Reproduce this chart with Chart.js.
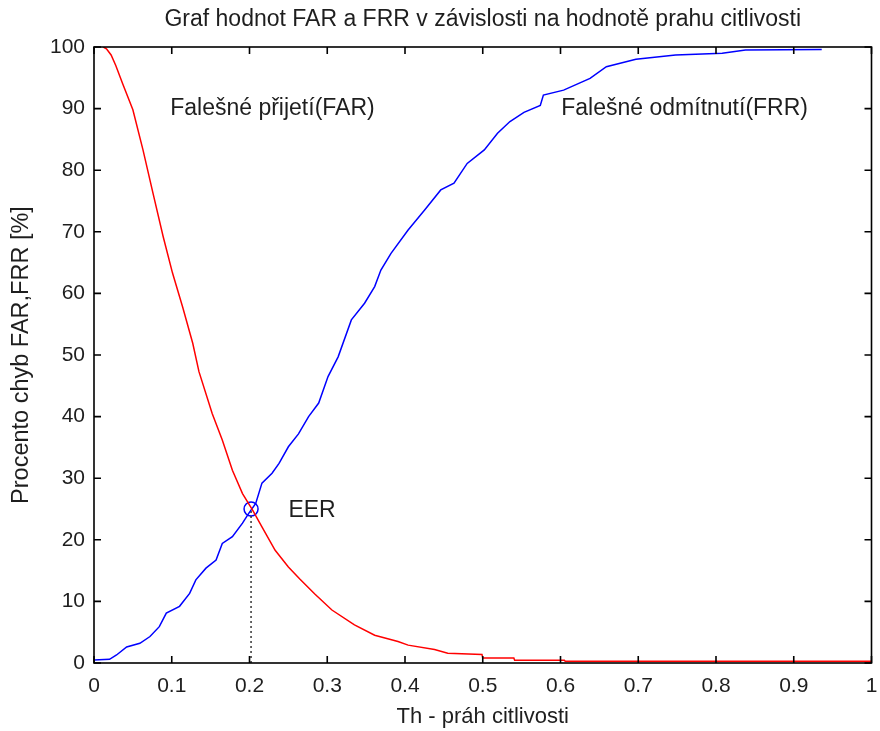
<!DOCTYPE html>
<html>
<head>
<meta charset="utf-8">
<script src="https://cdn.jsdelivr.net/npm/chart.js@4/dist/chart.umd.min.js"></script>
<style>
  html, body { margin: 0; padding: 0; background: #fff; overflow: hidden; }
  #wrap { width: 880px; height: 731px; }
  canvas { display: block; }
</style>
</head>
<body>
<div id="wrap"><canvas id="errChart"></canvas></div>
<script>
// values
const farX = [0.012, 0.016, 0.022, 0.028, 0.037, 0.050, 0.063, 0.076, 0.089, 0.101, 0.114, 0.127, 0.135, 0.152, 0.165, 0.178, 0.191, 0.204, 0.216, 0.233, 0.250, 0.265, 0.284, 0.306, 0.335, 0.361, 0.391, 0.404, 0.438, 0.455, 0.499, 0.500, 0.540, 0.541, 0.605, 0.606, 1.000];
const farY = [100, 99.7, 98.7, 97.0, 94.0, 89.8, 83.3, 76.2, 69.2, 63.3, 57.8, 51.9, 47.3, 40.5, 36.2, 31.3, 27.5, 24.8, 22.1, 18.3, 15.6, 13.6, 11.2, 8.6, 6.2, 4.5, 3.5, 2.9, 2.2, 1.6, 1.4, 0.8, 0.8, 0.45, 0.45, 0.3, 0.3];

const frrX = [0.000, 0.020, 0.029, 0.042, 0.059, 0.072, 0.084, 0.093, 0.110, 0.123, 0.131, 0.144, 0.157, 0.165, 0.178, 0.191, 0.199, 0.208, 0.216, 0.229, 0.238, 0.250, 0.263, 0.276, 0.289, 0.301, 0.314, 0.331, 0.348, 0.361, 0.369, 0.382, 0.404, 0.425, 0.446, 0.463, 0.480, 0.502, 0.519, 0.535, 0.553, 0.574, 0.578, 0.604, 0.638, 0.659, 0.697, 0.748, 0.808, 0.838, 0.936];
const frrY = [0.5, 0.6, 1.3, 2.6, 3.2, 4.3, 5.9, 8.1, 9.2, 11.3, 13.5, 15.4, 16.7, 19.4, 20.5, 22.7, 24.3, 25.9, 29.2, 30.8, 32.4, 35.1, 37.2, 40.0, 42.2, 46.5, 49.7, 55.7, 58.4, 61.1, 63.8, 66.5, 70.3, 73.5, 76.8, 77.9, 81.1, 83.3, 86.0, 87.9, 89.4, 90.5, 92.2, 93.0, 94.9, 96.8, 98.0, 98.7, 99.0, 99.5, 99.6];

const eerX = 0.202;
const eerY = 25;

const noteText = ['Falešné přijetí(FAR)', 'Falešné odmítnutí(FRR)', 'EER'];
const noteX = [0.098, 0.601, 0.250];
const noteY = [90, 90, 24.8];

const xTicks = [0, 0.1, 0.2, 0.3, 0.4, 0.5, 0.6, 0.7, 0.8, 0.9, 1];
const yTicks = [0, 10, 20, 30, 40, 50, 60, 70, 80, 90, 100];

const textColor = '#1e1e1e';
const fontFamily = '"Liberation Sans", Arial, sans-serif';
const plotRight = 877; // right edge of the plot box in the reference

// keep tick labels from pushing the plot area in
const noPad = () => ({ left: 0, top: 0, right: 0, bottom: 0 });
function lockPadding(s) {
    s._calculatePadding = function () {
        this.paddingLeft = 0; this.paddingRight = 0;
        this.paddingTop = 0; this.paddingBottom = 0;
    };
    s.getPadding = noPad;
}

const toPoints = (xs, ys) => xs.map((x, i) => ({ x: x, y: ys[i] }));

// box round the plot with MATLAB style inside ticks + text notes
const framePlugin = {
    id: 'frame',
    afterDatasetsDraw(chart) {
        const { ctx, chartArea: a, scales: { x, y } } = chart;
        ctx.save();
        ctx.strokeStyle = '#000';
        ctx.lineWidth = 1.6;
        ctx.strokeRect(a.left, a.top, a.right - a.left, a.bottom - a.top);
        ctx.beginPath();
        xTicks.forEach(v => {
            const px = x.getPixelForValue(v);
            ctx.moveTo(px, a.bottom); ctx.lineTo(px, a.bottom - 7);
            ctx.moveTo(px, a.top); ctx.lineTo(px, a.top + 7);
        });
        yTicks.forEach(v => {
            const py = y.getPixelForValue(v);
            ctx.moveTo(a.left, py); ctx.lineTo(a.left + 7, py);
            ctx.moveTo(a.right, py); ctx.lineTo(a.right - 7, py);
        });
        ctx.stroke();

        ctx.fillStyle = textColor;
        ctx.font = '23px ' + fontFamily;
        ctx.textAlign = 'left';
        ctx.textBaseline = 'middle';
        noteText.forEach((t, i) => {
            ctx.fillText(t, x.getPixelForValue(noteX[i]), y.getPixelForValue(noteY[i]));
        });
        ctx.restore();
    }
};

const ctx = document.getElementById('errChart').getContext('2d');
const chart = new Chart(ctx, {
    type: 'line',
    data: {
        datasets: [
            {
                data: toPoints(farX, farY),
                borderColor: '#ff0000',
                borderWidth: 1.5,
                pointRadius: 0,
                tension: 0
            },
            {
                data: toPoints(frrX, frrY),
                borderColor: '#0000ff',
                borderWidth: 1.5,
                pointRadius: 0,
                tension: 0
            },
            {
                data: toPoints([eerX, eerX], [0, eerY]),
                borderColor: '#333',
                borderWidth: 1.5,
                borderDash: [2, 3],
                pointRadius: 0
            },
            {
                data: toPoints([eerX], [eerY]),
                showLine: false,
                pointStyle: 'circle',
                pointRadius: 7,
                pointBorderWidth: 1.5,
                pointBorderColor: '#0000ff',
                pointBackgroundColor: 'rgba(0,0,0,0)'
            }
        ]
    },
    options: {
        responsive: true,
        maintainAspectRatio: false,
        animation: false,
        layout: { padding: { left: 0, right: 3, top: 0, bottom: 0 } },
        plugins: {
            legend: { display: false },
            tooltip: { enabled: false },
            title: {
                display: true,
                text: 'Graf hodnot FAR a FRR v závislosti na hodnotě prahu citlivosti',
                color: textColor,
                fullSize: false,
                font: { family: fontFamily, size: 23, weight: 'normal' },
                padding: { top: 6, bottom: 13.4 }
            }
        },
        scales: {
            x: {
                type: 'linear',
                min: 0,
                max: 1,
                afterBuildTicks: s => { s.ticks = xTicks.map(v => ({ value: v })); lockPadding(s); },
                afterFit: s => { s.height = 68; s.paddingLeft = 0; s.paddingRight = 0; },
                ticks: {
                    color: textColor,
                    font: { family: fontFamily, size: 21 },
                    padding: 11,
                    maxRotation: 0,
                    autoSkip: false,
                    callback: v => String(Math.round(v * 10) / 10)
                },
                grid: { display: false, drawTicks: false },
                border: { display: false },
                title: {
                    display: true,
                    text: 'Th - práh citlivosti',
                    color: textColor,
                    font: { family: fontFamily, size: 22 },
                    padding: { top: 0, bottom: 1 }
                }
            },
            y: {
                min: 0,
                max: 100,
                afterBuildTicks: s => { s.ticks = yTicks.map(v => ({ value: v })); lockPadding(s); },
                afterFit: s => { s.width = 94; s.paddingTop = 0; s.paddingBottom = 0; },
                ticks: {
                    color: textColor,
                    font: { family: fontFamily, size: 21 },
                    padding: 9,
                    autoSkip: false
                },
                grid: { display: false, drawTicks: false },
                border: { display: false },
                title: {
                    display: true,
                    text: 'Procento chyb FAR,FRR [%]',
                    color: textColor,
                    font: { family: fontFamily, size: 23.5 },
                    padding: { top: 7, bottom: 0 }
                }
            }
        }
    },
    plugins: [framePlugin]
});

// the "1" tick label still eats a few px on the right, so nudge the layout padding until the box ends at 877
for (let i = 0; i < 5; i++) {
    const d = plotRight - chart.chartArea.right;
    if (Math.abs(d) < 0.5) break;
    chart.config.options.layout.padding.right -= d;
    chart.update();
}
</script>
</body>
</html>
